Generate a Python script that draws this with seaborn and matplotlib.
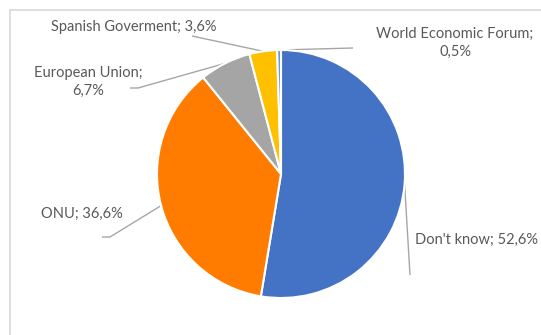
import numpy as np
import matplotlib
matplotlib.use("Agg")
import matplotlib.pyplot as plt
import seaborn as sns
from matplotlib.lines import Line2D

categories = ["Don't know", "ONU", "European Union", "Spanish Goverment", "World Economic Forum"]
values = [52.6, 36.6, 6.7, 3.6, 0.5]
value_labels = ["52,6%", "36,6%", "6,7%", "3,6%", "0,5%"]
colors = ["#4472C4", "#FF7C00", "#A5A5A5", "#FFC000", "#5B9BD5"]

sns.set_theme(style="white")
plt.rcParams['font.family'] = ['Lato', 'DejaVu Sans']

W, H = 541, 335
fig = plt.figure(figsize=(W / 100, H / 100), dpi=100)
ax = fig.add_axes([0, 0, 1, 1])
ax.set_xlim(0, W)
ax.set_ylim(0, H)
ax.set_aspect('equal')
ax.axis('off')

def P(x, ypix):
    return (x, H - ypix)

cx, cy = P(281, 174)
R = 124
wedges, _ = ax.pie(values, colors=colors, startangle=90, counterclock=False,
                   center=(cx, cy), radius=R, frame=True,
                   wedgeprops=dict(edgecolor="white", linewidth=1.5))
ax.set_xlim(0, W)
ax.set_ylim(0, H)
ax.axis('off')

# chart border
fig.add_artist(Line2D([10 / W, 1.0], [1 - 10 / H, 1 - 10 / H], color="#D9D9D9", lw=1.2, transform=fig.transFigure))
fig.add_artist(Line2D([10 / W, 10 / W], [0, 1 - 10 / H], color="#D9D9D9", lw=1.2, transform=fig.transFigure))

txt_color = "#595959"
line_color = "#A6A6A6"
fs = 10.5

layout = {
    "Don't know": dict(text=P(415, 240), ha="left", two=False, path=[P(410, 275)]),
    "ONU": dict(text=P(82, 214), ha="center", two=False, path=[P(102, 237), P(110, 237)]),
    "European Union": dict(text=P(88, 82), ha="center", two=True, path=[P(130, 88), P(138, 88)]),
    "Spanish Goverment": dict(text=P(134, 27), ha="center", two=False, path=[P(192, 36)]),
    "World Economic Forum": dict(text=P(455, 43), ha="center", two=True, path=[P(353, 48)]),
}

for w, cat, vl in zip(wedges, categories, value_labels):
    mid = np.deg2rad((w.theta1 + w.theta2) / 2)
    ex = cx + R * np.cos(mid)
    ey = cy + R * np.sin(mid)
    L = layout[cat]
    xs = [p[0] for p in L["path"]] + [ex]
    ys = [p[1] for p in L["path"]] + [ey]
    ax.plot(xs, ys, color=line_color, lw=1.0, solid_capstyle="butt", zorder=0)
    label = f"{cat};\n{vl}" if L["two"] else f"{cat}; {vl}"
    ax.text(L["text"][0], L["text"][1], label, ha=L["ha"], va="center",
            fontsize=fs, color=txt_color, linespacing=1.4)

fig.savefig("out.png", dpi=100)
